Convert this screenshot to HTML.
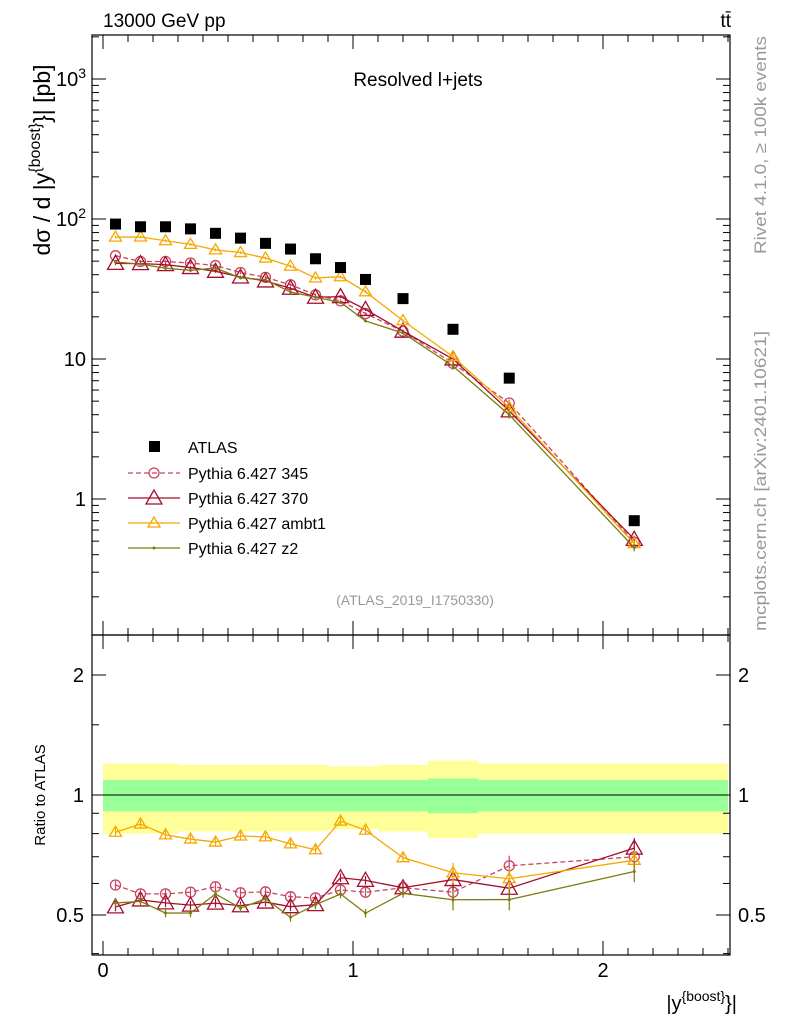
<!DOCTYPE html>
<html><head><meta charset="utf-8"><style>
body{margin:0;background:#fff;font-family:"Liberation Sans",sans-serif}
svg text{font-family:"Liberation Sans","DejaVu Sans",sans-serif}
</style></head><body>
<svg id="c" width="786" height="1024" xmlns="http://www.w3.org/2000/svg">
<g id="bands"></g>
<g id="frames"></g>
<g id="marks"></g>
<text x="103" y="27" font-size="19">13000 GeV pp</text>
<text x="731" y="27" font-size="19" text-anchor="end">tt̄</text>
<text x="418" y="86" font-size="19" text-anchor="middle">Resolved l+jets</text>
<text x="415" y="605" font-size="14" fill="#999" text-anchor="middle">(ATLAS_2019_I1750330)</text>
<text transform="translate(766,145) rotate(-90)" font-size="17" fill="#999" text-anchor="middle" textLength="218" lengthAdjust="spacingAndGlyphs">Rivet 4.1.0, ≥ 100k events</text>
<text transform="translate(766,481) rotate(-90)" font-size="17" fill="#999" text-anchor="middle" textLength="300" lengthAdjust="spacingAndGlyphs">mcplots.cern.ch [arXiv:2401.10621]</text>
<text transform="translate(50,160) rotate(-90)" font-size="23" text-anchor="middle">dσ / d |y<tspan dy="-10" font-size="16">{boost}</tspan><tspan dy="10">}| [pb]</tspan></text>
<text transform="translate(45,795) rotate(-90)" font-size="15" text-anchor="middle">Ratio to ATLAS</text>
<text x="737" y="1010" font-size="20" text-anchor="end">|y<tspan dy="-9" font-size="14">{boost}</tspan><tspan dy="9">}|</tspan></text>
<g id="legend"></g>
</svg>
<script>
const binEdges=[0,0.1,0.2,0.3,0.4,0.5,0.6,0.7,0.8,0.9,1.0,1.1,1.3,1.5,1.75,2.5];
const atlas=[92,88,88,85,79,73,67,61,52,45,37,27,16.3,7.3,0.70];
const py345=[54.7,49.7,49.7,48.5,46.5,41.5,38.3,33.9,28.7,26,21.1,15.8,9.3,4.85,0.49];
const py370=[48.2,48,47.2,45,42.3,38.5,36.1,32,27.6,27.9,22.6,15.8,10,4.26,0.515];
const pyAmbt1=[74.2,74.4,69.9,65.9,60.2,57.6,52.6,46,37.9,38.7,30.2,18.8,10.4,4.5,0.48];
const pyZ2=[49.3,47.6,44.5,43,44.6,38,36.8,30.1,27.6,25.4,18.7,15.3,8.9,3.99,0.45];
const statErr=[0.09,0.09,0.09,0.09,0.09,0.09,0.09,0.09,0.09,0.09,0.09,0.09,0.10,0.09,0.09];
const totErr=[0.2,0.2,0.2,0.19,0.19,0.19,0.19,0.19,0.19,0.18,0.18,0.19,0.22,0.2,0.2];
const mainTicks=[1,10,100,1000];
const mainTickLabels=["1","10","10²","10³"];
const ratioTicks=[0.5,1,2];
const xTicks=[0,1,2];

const NS="http://www.w3.org/2000/svg";
const L=92,R=730,T=35,M=635,B=955;
const xs=v=>103+250*v;
const ym=v=>499-140*Math.log10(v);
const yr=v=>795-120*Math.log2(v);
function el(p,t,a){const e=document.createElementNS(NS,t);for(const k in a)e.setAttribute(k,a[k]);p.appendChild(e);return e;}
const bands=document.getElementById('bands'),frames=document.getElementById('frames'),marks=document.getElementById('marks'),leg=document.getElementById('legend');
const centers=binEdges.slice(0,-1).map((e,i)=>(e+binEdges[i+1])/2);

for(let i=0;i<atlas.length;i++){
  const x0=xs(binEdges[i]),x1=xs(binEdges[i+1]);
  let r=el(bands,'rect',{x:x0,y:yr(1+totErr[i]),width:x1-x0,height:yr(1-totErr[i])-yr(1+totErr[i]),fill:'#ffff99'});
  
  
  r=el(bands,'rect',{x:x0,y:yr(1+statErr[i]),width:x1-x0,height:yr(1-statErr[i])-yr(1+statErr[i]),fill:'#99ff99'});
  
  
}
el(bands,'line',{x1:L,x2:R,y1:yr(1),y2:yr(1),stroke:'#000','stroke-width':1});

el(frames,'rect',{x:L,y:T,width:R-L,height:M-T,fill:'none',stroke:'#000','stroke-width':1.2});
el(frames,'rect',{x:L,y:M,width:R-L,height:B-M,fill:'none',stroke:'#000','stroke-width':1.2});
for(let d=-1;d<=3;d++){for(let k=1;k<10;k++){const v=k*Math.pow(10,d);const y=ym(v);if(y<T||y>M)continue;const len=k==1?14:7;
 el(frames,'line',{x1:L,x2:L+len,y1:y,y2:y,stroke:'#000'});el(frames,'line',{x1:R,x2:R-len,y1:y,y2:y,stroke:'#000'});}}
mainTicks.forEach((v,i)=>{const t=el(frames,'text',{x:L-6,y:ym(v)+7,'font-size':20,'text-anchor':'end'});
 if(v>=100){t.innerHTML='10<tspan dy="-8" font-size="14">'+(v==100?'2':'3')+'</tspan>';}else t.textContent=mainTickLabels[i];
 
 });
[0.4,0.5,0.6,0.7,0.8,0.9,1,1.5,2].forEach(v=>{const y=yr(v);if(y<M||y>B)return;const len=(v==0.5||v==1||v==2)?14:7;
 el(frames,'line',{x1:L,x2:L+len,y1:y,y2:y,stroke:'#000'});el(frames,'line',{x1:R,x2:R-len,y1:y,y2:y,stroke:'#000'});});
ratioTicks.forEach(v=>{const a=el(frames,'text',{x:L-8,y:yr(v)+7,'font-size':20,'text-anchor':'end'});a.textContent=String(v);
 
 
 const b=el(frames,'text',{x:R+8,y:yr(v)+7,'font-size':20});b.textContent=String(v);
 
 });
for(let k=0;k<=25;k++){const v=k/10,x=xs(v);if(x<L||x>R)continue;const len=k%10==0?14:7;
 [T,M].forEach(y=>el(frames,'line',{x1:x,x2:x,y1:y,y2:y+len,stroke:'#000'}));
 [M,B].forEach(y=>el(frames,'line',{x1:x,x2:x,y1:y,y2:y-len,stroke:'#000'}));}
xTicks.forEach(v=>{const t=el(frames,'text',{x:xs(v),y:B+22,'font-size':20,'text-anchor':'middle'});t.textContent=String(v);
 
 });

const series=[
 {d:py345,c:'#c8455f',dash:'5,3',m:'circle',name:'Pythia 6.427 345'},
 {d:py370,c:'#a50f2d',dash:'',m:'tri',name:'Pythia 6.427 370'},
 {d:pyAmbt1,c:'#f5a800',dash:'',m:'tris',name:'Pythia 6.427 ambt1'},
 {d:pyZ2,c:'#7c7c0e',dash:'',m:'dot',name:'Pythia 6.427 z2'}];
function marker(g,m,x,y,c){
 if(m=='circle')el(g,'circle',{cx:x,cy:y,r:5,fill:'none',stroke:c,'stroke-width':1.3});
 else if(m=='tri')el(g,'polygon',{points:`${x},${y-8} ${x-8},${y+6} ${x+8},${y+6}`,fill:'none',stroke:c,'stroke-width':1.3});
 else if(m=='tris')el(g,'polygon',{points:`${x},${y-6} ${x-6},${y+4} ${x+6},${y+4}`,fill:'none',stroke:c,'stroke-width':1.3});
 else el(g,'circle',{cx:x,cy:y,r:1.5,fill:c});
}
series.forEach((s,si)=>{
 const g=el(marks,'g',{});
 
 
 const pm=centers.map((c,i)=>xs(c)+','+ym(s.d[i])).join(' ');
 el(g,'polyline',{points:pm,fill:'none',stroke:s.c,'stroke-width':1.3,'stroke-dasharray':s.dash});
 const pr=centers.map((c,i)=>xs(c)+','+yr(s.d[i]/atlas[i])).join(' ');
 el(g,'polyline',{points:pr,fill:'none',stroke:s.c,'stroke-width':1.3,'stroke-dasharray':s.dash});
 centers.forEach((c,i)=>{const r=s.d[i]/atlas[i];const x=xs(c);
  const e=i>=12?0.06:0.025;
  el(g,'line',{x1:x,x2:x,y1:yr(r*(1+e)),y2:yr(r*(1-e)),stroke:s.c,'stroke-width':1.2});
  el(g,'line',{x1:x,x2:x,y1:ym(s.d[i]*(1+e)),y2:ym(s.d[i]*(1-e)),stroke:s.c,'stroke-width':1.2});
  marker(g,s.m,x,ym(s.d[i]),s.c);marker(g,s.m,x,yr(r),s.c);});
});
const ga=el(marks,'g',{});


centers.forEach((c,i)=>el(ga,'rect',{x:xs(c)-5.5,y:ym(atlas[i])-5.5,width:11,height:11,fill:'#000'}));

el(leg,'rect',{x:149,y:441,width:11,height:11,fill:'#000'});
let t=el(leg,'text',{x:188,y:453,'font-size':16});t.textContent='ATLAS';
series.forEach((s,i)=>{const y=473+i*25;
 el(leg,'line',{x1:128,x2:180,y1:y,y2:y,stroke:s.c,'stroke-width':1.3,'stroke-dasharray':s.dash});
 marker(leg,s.m,154,y,s.c);
 const tt=el(leg,'text',{x:188,y:y+6,'font-size':16});tt.textContent=s.name;
 
 });
</script>
</body></html>
